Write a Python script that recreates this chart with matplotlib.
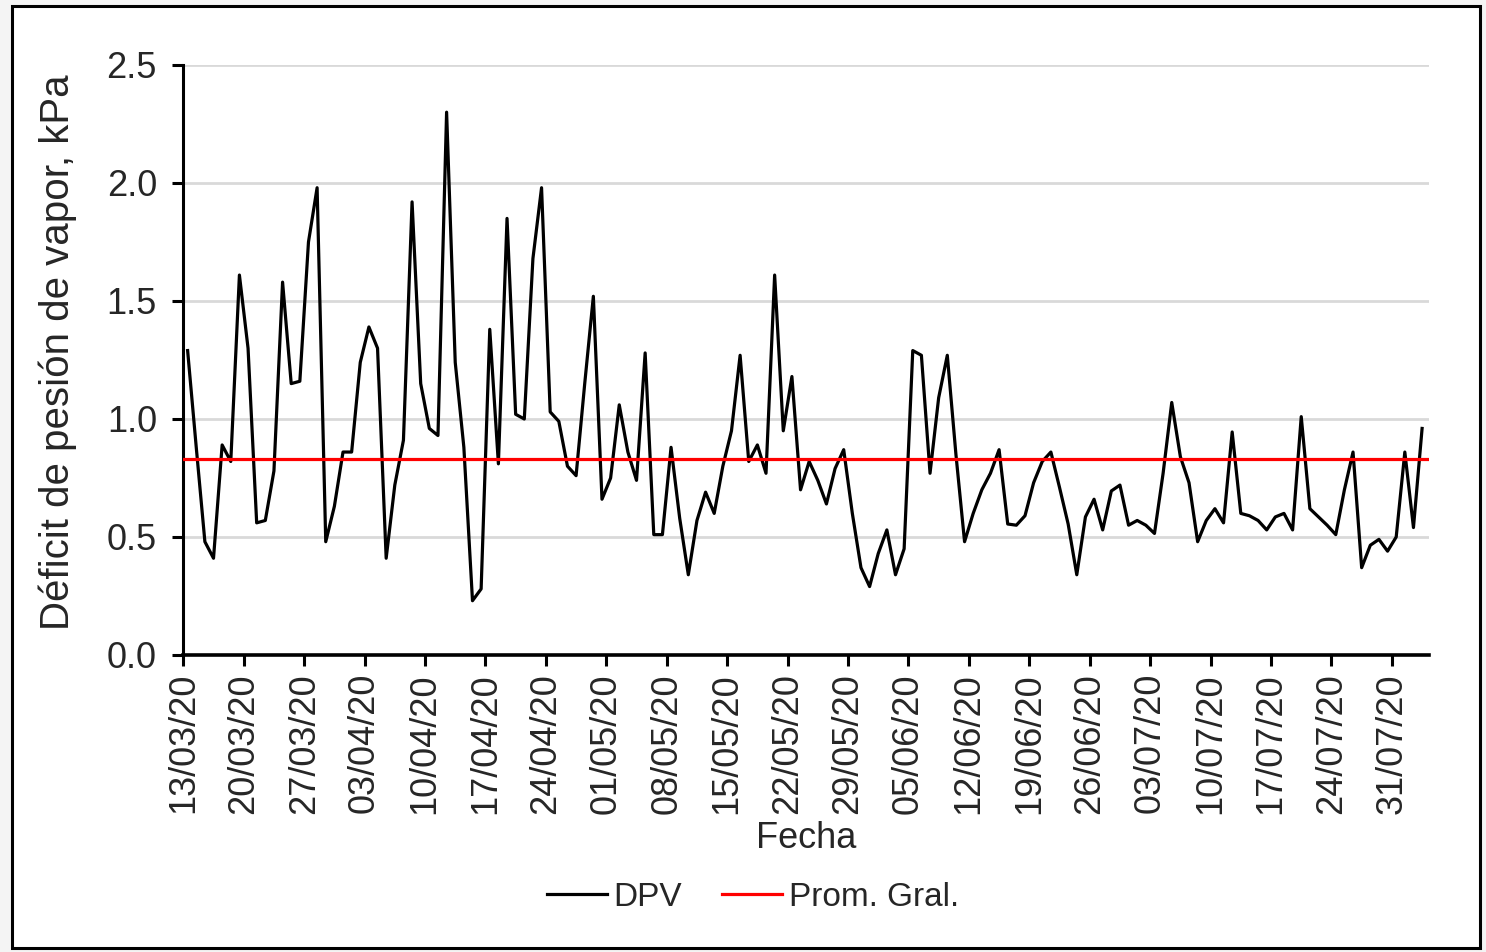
import matplotlib
matplotlib.use("Agg")
import matplotlib.pyplot as plt
import matplotlib.dates as mdates
from matplotlib.patches import Rectangle
import numpy as np
import pandas as pd

# ---- data ----
start_date = "2020-03-13"
dpv = [1.29, 0.88, 0.48, 0.41, 0.89, 0.82, 1.61, 1.30, 0.56, 0.57,
       0.78, 1.58, 1.15, 1.16, 1.75, 1.98, 0.48, 0.63, 0.86, 0.86,
       1.24, 1.39, 1.30, 0.41, 0.72, 0.91, 1.92, 1.15, 0.96, 0.93,
       2.30, 1.24, 0.88, 0.23, 0.28, 1.38, 0.81, 1.85, 1.02, 1.00,
       1.68, 1.98, 1.03, 0.99, 0.80, 0.76, 1.15, 1.52, 0.66, 0.75,
       1.06, 0.86, 0.74, 1.28, 0.51, 0.51, 0.88, 0.58, 0.34, 0.57,
       0.69, 0.60, 0.80, 0.95, 1.27, 0.82, 0.89, 0.77, 1.61, 0.95,
       1.18, 0.70, 0.82, 0.74, 0.64, 0.79, 0.87, 0.60, 0.37, 0.29,
       0.43, 0.53, 0.34, 0.45, 1.29, 1.27, 0.77, 1.09, 1.27, 0.85,
       0.48, 0.60, 0.70, 0.77, 0.87, 0.555, 0.55, 0.59, 0.73, 0.82,
       0.86, 0.71, 0.555, 0.34, 0.585, 0.66, 0.53, 0.695, 0.72, 0.55,
       0.57, 0.55, 0.515, 0.77, 1.07, 0.84, 0.73, 0.48, 0.57, 0.62,
       0.56, 0.945, 0.60, 0.59, 0.57, 0.53, 0.585, 0.60, 0.53, 1.01,
       0.62, 0.585, 0.55, 0.51, 0.70, 0.86, 0.37, 0.465, 0.49, 0.44,
       0.50, 0.86, 0.54, 0.96]
prom_gral = 0.83
y_ticks = [0.0, 0.5, 1.0, 1.5, 2.0, 2.5]
x_tick_start = "2020-03-13"
x_tick_end = "2020-07-31"

dates = pd.date_range(start_date, periods=len(dpv), freq="D") + pd.Timedelta(hours=12)
tick_dates = pd.date_range(x_tick_start, x_tick_end, freq="7D")

plt.rcParams['font.family'] = ['Liberation Sans', 'DejaVu Sans']
txt_color = '#262626'

fig = plt.figure(figsize=(14.86, 9.52), dpi=100, facecolor='#f4f4f4')
fig.patches.append(Rectangle((12/1486, 1 - 948/952), (1480-12)/1486, (948-6)/952,
                             transform=fig.transFigure, facecolor='white',
                             edgecolor='black', linewidth=2.2, zorder=-10))

ax = fig.add_axes([183.3/1486, 1 - 655/952, (1429-183.3)/1486, (655-65)/952])
ax.set_facecolor('none')

x_end = pd.Timestamp(start_date) + pd.Timedelta(days=144.3)
ax.plot(dates, dpv, color='black', lw=2.3, label='DPV', zorder=3)
ax.plot([pd.Timestamp(start_date), x_end], [prom_gral, prom_gral],
        color='#ff0000', lw=2.3, label='Prom. Gral.', zorder=4)

ax.set_ylim(0, 2.5)
ax.set_xlim(pd.Timestamp(start_date), x_end)
ax.set_yticks(y_ticks)
ax.set_yticklabels([f"{v:.1f}" for v in y_ticks])
ax.set_xticks(tick_dates)
ax.xaxis.set_major_formatter(mdates.DateFormatter('%d/%m/%y'))
ax.tick_params(axis='x', rotation=90)

ax.yaxis.grid(True, color='#d9d9d9', lw=2.0, zorder=0)
ax.set_axisbelow(True)
for s in ['top', 'right']:
    ax.spines[s].set_visible(False)
ax.spines['left'].set_linewidth(2.2)
ax.spines['bottom'].set_linewidth(2.6)
ax.tick_params(axis='both', direction='out', length=8, width=2.2,
               labelsize=26, labelcolor=txt_color)
ax.tick_params(axis='y', pad=11)
ax.tick_params(axis='x', pad=5)

ax.set_xlabel('Fecha', fontsize=26, color=txt_color)
ax.xaxis.label.set_va('center')
ax.xaxis.set_label_coords(0.5, (655 - 838) / 590)
ax.set_ylabel('Déficit de pesión de vapor, kPa', fontsize=29, color=txt_color)
ax.yaxis.label.set_va('center')
ax.yaxis.set_label_coords((58 - 183.3) / 1245.7, (655 - 352) / 590)

leg = fig.legend(loc='center', bbox_to_anchor=(753/1486, 1 - 897/952), ncol=2,
                 frameon=False, fontsize=24, handlelength=1.8, handletextpad=0.2,
                 columnspacing=1.2)
for t in leg.get_texts():
    t.set_color(txt_color)

fig.savefig('out.png', dpi=100, facecolor=fig.get_facecolor())
